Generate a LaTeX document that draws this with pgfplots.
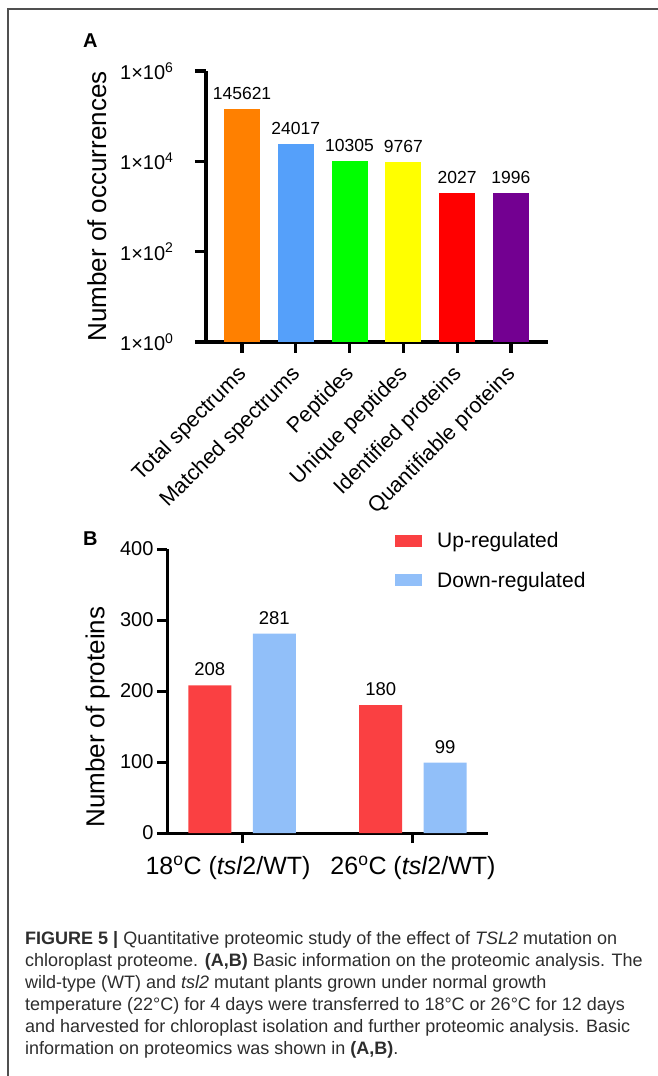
\documentclass[border=0pt]{standalone}
\usepackage{fontspec}
\setmainfont{Liberation Sans}
\usepackage{pgfplots}
\pgfplotsset{compat=1.18}

\definecolor{cOrange}{RGB}{255,128,0}
\definecolor{cBlue}{RGB}{85,160,250}
\definecolor{cGreen}{RGB}{0,255,0}
\definecolor{cYellow}{RGB}{255,255,0}
\definecolor{cRed}{RGB}{255,0,0}
\definecolor{cPurple}{RGB}{115,0,145}
\definecolor{bRed}{RGB}{250,64,66}
\definecolor{bBlue}{RGB}{145,191,249}
\definecolor{frameGray}{RGB}{80,80,80}
\definecolor{capGray}{RGB}{45,45,45}

\newcommand{\fs}[1]{\fontsize{#1pt}{#1pt}\selectfont}

\pgfplotsset{
  thickaxis/.style={
    axis lines=left,
    axis line style={-, line width=#1, black},
    x axis line style={line width=#1},
    y axis line style={line width=#1},
    every outer x axis line/.append style={line width=#1},
    every outer y axis line/.append style={line width=#1},
    tick align=outside,
    tick style={line width=#1, black},
    major tick style={line width=#1, black},
    every tick/.append style={line width=#1, black},
  }
}

\begin{document}
\begin{tikzpicture}[x=1pt,y=1pt]
\useasboundingbox (0,0) rectangle (657,-1076);
\draw[frameGray, line width=2pt] (8,-1080) -- (8,-9) -- (660,-9);

\node[anchor=base west, font=\bfseries\fs{20}, inner sep=0pt] at (83,-47) {A};
\node[anchor=base west, font=\bfseries\fs{20}, inner sep=0pt] at (83,-545) {B};

% ---------------- Panel A ----------------
\begin{axis}[
  at={(206pt,-342pt)}, anchor=south west,
  scale only axis, width=342pt, height=271pt,
  ymode=log, ymin=1, ymax=1e6,
  xmin=-0.67, xmax=5.69,
  thickaxis=3.2pt,
  major tick length=11pt,
  yminorticks=false,
  ytick={1,100,10000,1000000},
  yticklabels={1×10\textsuperscript{0},1×10\textsuperscript{2},1×10\textsuperscript{4},1×10\textsuperscript{6}},
  xtick={0,1,2,3,4,5},
  xticklabels={Total spectrums, Matched spectrums, Peptides, Unique peptides, Identified proteins, Quantifiable proteins},
  xticklabel style={font=\fs{21.5}, inner sep=0pt, anchor=north east, xshift=-6pt, yshift=-11pt, rotate=45},
  yticklabel style={font=\fs{20}, xshift=-18pt},
  ylabel={Number of occurrences},
  ylabel style={font=\fs{26}, at={(rel axis cs:-0.319,0.5)}, anchor=center},
  ybar, bar width=36pt,
  nodes near coords, point meta=explicit symbolic,
  every node near coord/.append style={font=\fs{17.5}, inner sep=0pt, anchor=south, yshift=9pt},
]
\addplot[fill=cOrange, draw=none, bar shift=0pt] coordinates {(0,145621) [145621]};
\addplot[fill=cBlue, draw=none, bar shift=0pt] coordinates {(1,24017) [24017]};
\addplot[fill=cGreen, draw=none, bar shift=0pt] coordinates {(2,10305) [10305]};
\addplot[fill=cYellow, draw=none, bar shift=0pt] coordinates {(3,9767) [9767]};
\addplot[fill=cRed, draw=none, bar shift=0pt] coordinates {(4,2027) [2027]};
\addplot[fill=cPurple, draw=none, bar shift=0pt] coordinates {(5,1996) [1996]};
\end{axis}

% ---------------- Panel B ----------------
\begin{axis}[
  at={(167pt,-833pt)}, anchor=south west,
  scale only axis, width=321pt, height=284pt,
  ymin=0, ymax=400, xmin=-0.439, xmax=1.439,
  thickaxis=3pt,
  major tick length=10pt,
  ytick={0,100,200,300,400},
  xtick={0,1},
  xticklabels={{\hspace*{-28pt}18\textsuperscript{o}C (\textit{tsl}2/WT)},{26\textsuperscript{o}C (\textit{tsl}2/WT)}},
  xticklabel style={font=\fs{25}, yshift=-10pt},
  yticklabel style={font=\fs{20}},
  /pgf/number format/assume math mode=true,
  ylabel={Number of proteins},
  ylabel style={font=\fs{26}, at={(rel axis cs:-0.216,0.408)}, anchor=center},
  ybar, bar width=43pt,
  nodes near coords, point meta=explicit symbolic,
  every node near coord/.append style={font=\fs{18.5}, inner sep=0pt, anchor=south, yshift=9pt},
  legend style={at={(rel axis cs:0.7103,1.06)}, anchor=north west, draw=none, fill=none,
    font=\fs{21}, row sep=23pt, inner sep=0pt, nodes={inner sep=0pt},
    /tikz/every odd column/.append style={column sep=15pt}},
  legend cell align=left,
]
\addplot[fill=bRed, draw=none, bar shift=-32.25pt,
  legend image code/.code={\fill[bRed] (0pt,-6pt) rectangle (27pt,6pt);}]
  coordinates {(0,208) [208] (1,180) [180]};
\addplot[fill=bBlue, draw=none, bar shift=32.25pt,
  legend image code/.code={\fill[bBlue] (0pt,-6pt) rectangle (27pt,6pt);}]
  coordinates {(0,281) [281] (1,99) [99]};
\legend{Up-regulated, Down-regulated}
\end{axis}

% ---------------- Caption ----------------
\begin{scope}[every node/.style={anchor=base west, inner sep=0pt, text=capGray, font=\fs{18}}]
\node at (25,-944) {\textbf{FIGURE 5 |} Quantitative proteomic study of the effect of \textit{TSL2} mutation on};
\node at (25,-966) {chloroplast proteome. \textbf{(A,B)} Basic information on the proteomic analysis. The};
\node at (25,-988) {wild-type (WT) and \textit{tsl2} mutant plants grown under normal growth};
\node at (25,-1010) {temperature (22°C) for 4 days were transferred to 18°C or 26°C for 12 days};
\node at (25,-1032) {and harvested for chloroplast isolation and further proteomic analysis. Basic};
\node at (25,-1054) {information on proteomics was shown in \textbf{(A,B)}.};
\end{scope}
\end{tikzpicture}
\end{document}
